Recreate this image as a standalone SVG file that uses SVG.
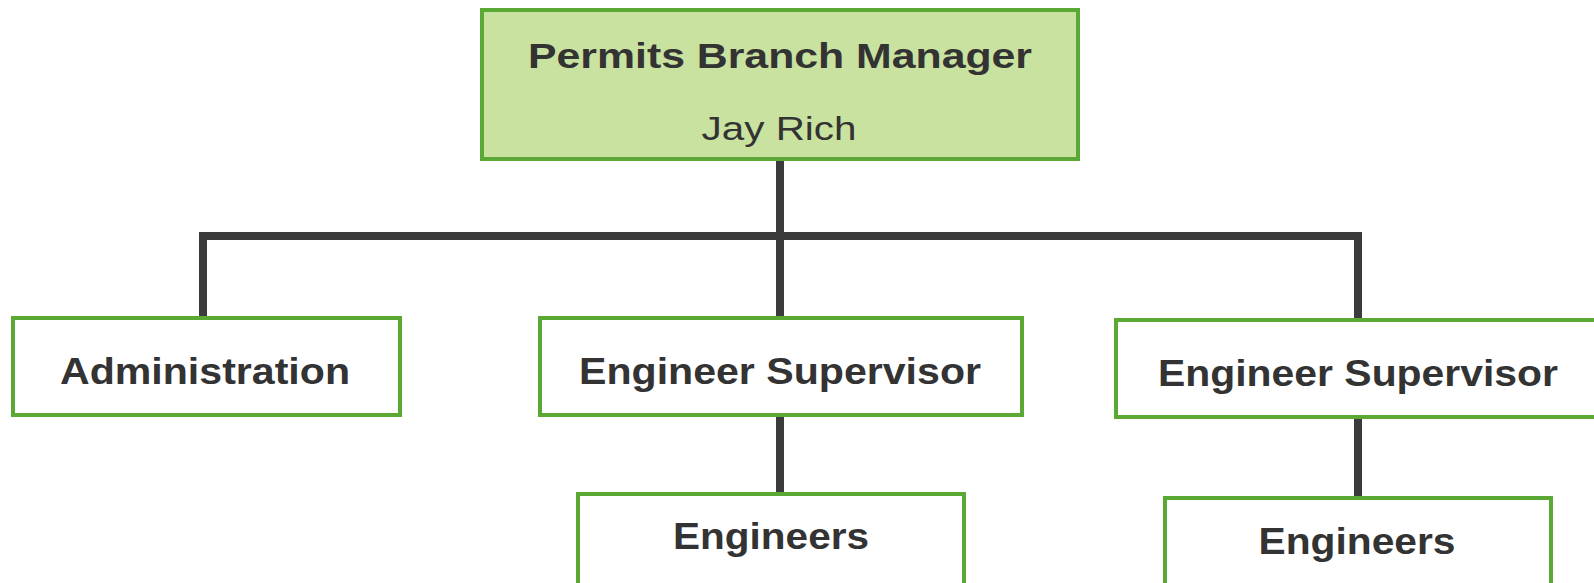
<svg xmlns="http://www.w3.org/2000/svg" width="1594" height="583" viewBox="0 0 1594 583">
<style>
.box{fill:#ffffff;stroke:#5aa935;stroke-width:4}
.top{fill:#c9e29f;stroke:#5aa935;stroke-width:4}
.conn{stroke:#3b3b3b;stroke-width:8;fill:none;stroke-linecap:butt}
.t{font-family:"Liberation Sans",Arial,sans-serif;font-weight:bold;fill:#333333;text-anchor:middle}
.r{font-family:"Liberation Sans",Arial,sans-serif;font-weight:normal;fill:#333333;text-anchor:middle}
</style>
<rect width="1594" height="583" fill="#ffffff"/>
<g id="connectors">
<line class="conn" x1="780" y1="160" x2="780" y2="317"/>
<polyline class="conn" points="203,317 203,236 1358,236 1358,319"/>
<line class="conn" x1="780" y1="415" x2="780" y2="493"/>
<line class="conn" x1="1358" y1="417" x2="1358" y2="497"/>
</g>
<g id="manager">
<rect class="top" x="482" y="10" width="596" height="149"/>
<text class="t" x="780" y="68" font-size="35" textLength="504" lengthAdjust="spacingAndGlyphs">Permits Branch Manager</text>
<text class="r" x="779" y="140" font-size="33" textLength="155" lengthAdjust="spacingAndGlyphs">Jay Rich</text>
</g>
<g id="administration">
<rect class="box" x="13" y="318" width="387" height="97"/>
<text class="t" x="205" y="384" font-size="36" textLength="290" lengthAdjust="spacingAndGlyphs">Administration</text>
</g>
<g id="supervisor1">
<rect class="box" x="540" y="318" width="482" height="97"/>
<text class="t" x="780" y="384" font-size="36" textLength="402" lengthAdjust="spacingAndGlyphs">Engineer Supervisor</text>
</g>
<g id="supervisor2">
<rect class="box" x="1116" y="320" width="484" height="97"/>
<text class="t" x="1358" y="386" font-size="36" textLength="400" lengthAdjust="spacingAndGlyphs">Engineer Supervisor</text>
</g>
<g id="engineers1">
<rect class="box" x="578" y="494" width="386" height="100"/>
<text class="t" x="771" y="549" font-size="36" textLength="196" lengthAdjust="spacingAndGlyphs">Engineers</text>
</g>
<g id="engineers2">
<rect class="box" x="1165" y="498" width="386" height="100"/>
<text class="t" x="1357" y="554" font-size="36" textLength="197" lengthAdjust="spacingAndGlyphs">Engineers</text>
</g>
</svg>
